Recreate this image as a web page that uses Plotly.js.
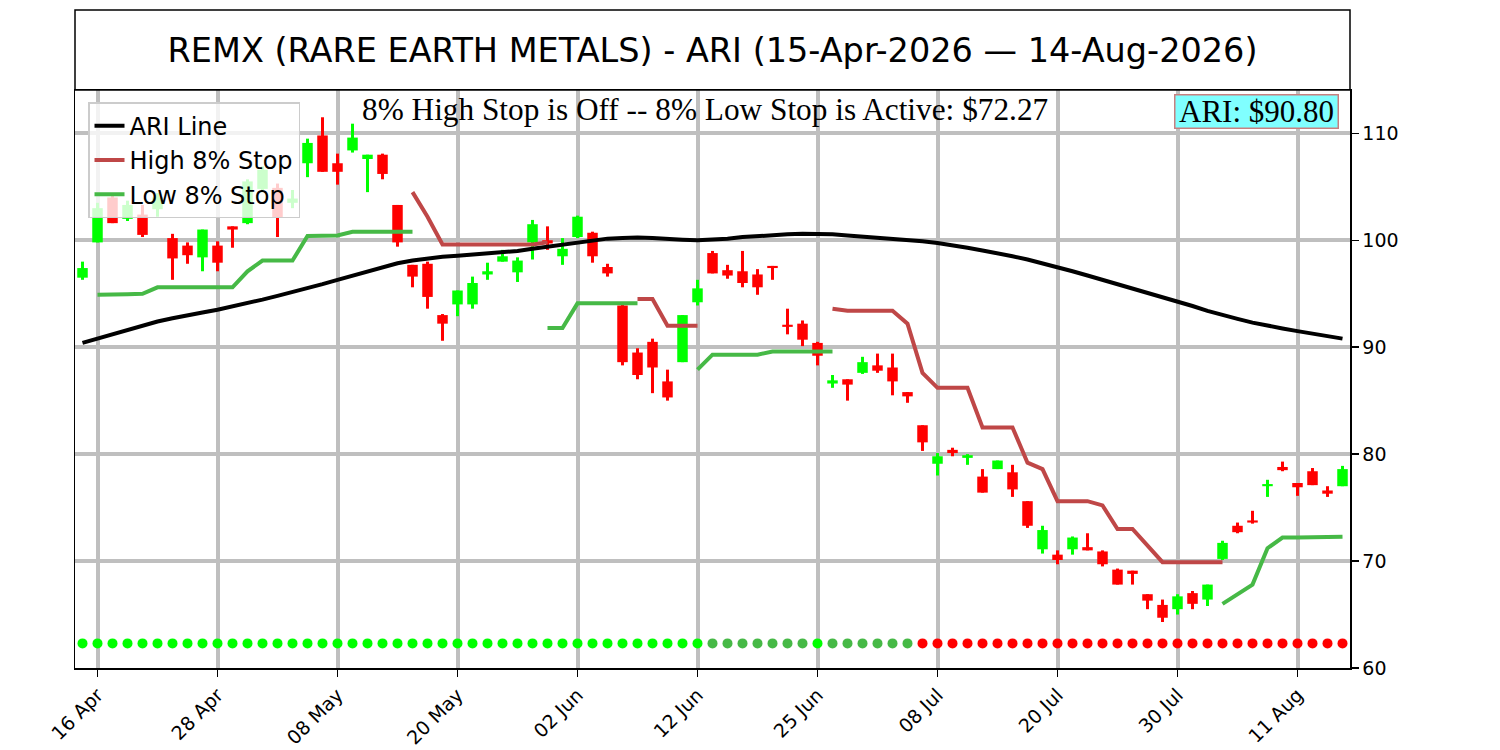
<!DOCTYPE html>
<html>
<head>
<meta charset="utf-8">
<script src="https://cdn.plot.ly/plotly-3.0.1.min.js"></script>
<style>html,body{margin:0;padding:0;background:#fff;}#chart{width:1500px;height:750px;}</style>
</head>
<body>
<div id="chart"></div>
<script>
// ---- data (trading-day index 0 = 15-Apr-2026 ... 84 = 14-Aug-2026) ----
var openP  = [96.5,99.8,104.0,102.0,102.4,102.9,100.2,99.5,98.4,99.5,101.3,101.6,104.8,104.9,103.5,107.2,109.8,107.2,108.4,107.6,108.0,103.3,97.7,97.8,93.0,94.0,94.0,96.8,98.0,97.0,99.8,100.0,98.5,100.3,100.7,97.5,93.9,89.5,90.5,86.8,88.6,94.2,98.8,97.2,97.1,96.8,97.6,92.1,92.2,90.4,86.6,87.0,87.6,88.3,88.1,85.8,82.7,79.1,80.4,79.65,77.9,78.6,78.3,75.6,71.1,70.6,71.1,71.3,70.9,69.2,69.1,66.9,65.9,65.5,67.0,66.4,70.2,73.3,73.8,77.0,78.8,77.3,78.4,76.6,77.0];
var highP  = [98.0,103.5,104.3,103.7,103.3,104.4,100.6,99.8,101.0,99.9,101.3,105.7,106.9,105.3,104.7,109.5,111.5,108.1,110.9,108.0,108.1,103.3,97.7,98.0,93.1,95.3,96.6,97.9,99.1,98.4,101.9,101.3,100.2,102.3,100.8,97.8,94.1,89.9,90.8,87.9,93.0,96.3,99.0,97.7,99.0,97.3,97.6,93.6,92.5,90.5,87.4,87.0,89.1,89.4,89.4,85.8,82.7,80.1,80.6,80.0,78.6,79.4,79.0,75.6,73.3,71.0,72.3,72.6,71.0,69.3,69.1,66.9,66.4,66.9,67.2,67.8,71.9,73.6,74.7,77.6,79.3,77.3,78.7,77.0,78.9];
var lowP   = [96.3,99.8,101.6,101.8,100.3,102.2,96.3,97.8,97.1,97.1,99.3,101.5,104.6,100.3,103.0,105.9,106.4,105.2,108.2,104.5,105.7,99.4,95.6,93.6,90.6,92.9,93.6,96.3,98.0,96.1,98.2,99.1,97.7,100.2,97.9,96.6,88.3,87.0,85.7,85.0,88.6,93.9,96.9,96.4,95.6,94.9,96.3,91.2,90.1,88.3,86.2,85.0,87.5,87.6,85.5,84.8,80.3,78.0,79.8,79.0,76.4,78.6,76.0,73.1,70.7,69.7,70.6,71.0,69.5,67.8,67.8,65.5,64.3,65.0,65.5,65.8,70.1,72.6,73.5,76.0,78.4,76.1,77.1,76.0,77.0];
var closeP = [97.4,103.0,101.6,103.3,100.5,104.0,98.3,98.6,101.0,97.9,101.0,105.5,106.6,102.1,103.9,109.1,106.4,106.4,109.6,108.0,106.2,99.8,96.6,94.7,92.2,95.3,96.0,97.1,98.5,98.1,101.5,99.7,99.2,102.2,98.5,96.9,88.6,87.4,88.1,85.3,93.0,95.5,96.9,96.7,96.0,95.6,97.4,91.9,90.7,89.2,86.9,86.5,88.6,87.8,86.8,85.4,81.1,79.8,80.1,79.9,76.4,79.4,76.7,73.3,72.9,70.1,72.2,71.0,69.7,67.8,68.8,66.3,64.7,66.7,66.0,67.8,71.7,72.7,73.6,77.2,78.5,76.9,77.1,76.3,78.6];

var ariLine = [90.4,90.8,91.2,91.6,92.0,92.4,92.7,93.0,93.25,93.5,93.8,94.1,94.45,94.8,95.15,95.5,95.9,96.3,96.7,97.1,97.5,97.85,98.1,98.3,98.45,98.55,98.65,98.75,98.85,99.0,99.2,99.4,99.6,99.8,100.0,100.15,100.2,100.25,100.2,100.1,100.05,100.0,100.05,100.15,100.3,100.4,100.5,100.55,100.6,100.6,100.55,100.45,100.35,100.25,100.15,100.05,99.9,99.75,99.55,99.3,99.05,98.8,98.5,98.2,97.85,97.5,97.1,96.7,96.3,95.9,95.5,95.1,94.7,94.3,93.85,93.4,93.0,92.65,92.3,92.0,91.75,91.5,91.25,91.0,90.8];

var highStop = [null,null,null,null,null,null,null,null,null,null,null,null,null,null,null,null,null,null,null,null,null,null,
  104.5,102.2,99.6,99.6,99.6,99.6,99.6,99.6,99.6,99.8,
  null,null,null,null,null,
  94.5,94.5,92.0,92.0,92.0,
  null,null,null,null,null,null,null,null,
  93.6,93.4,93.4,93.4,93.4,92.2,87.6,86.2,86.2,86.2,82.5,82.5,82.5,79.2,78.6,75.6,75.6,75.6,75.2,73.0,73.0,71.5,69.9,69.9,69.9,69.9,69.9,
  null,null,null,null,null,null,null,null];

var lowStop = [null,
  94.9,94.9,94.95,95.0,95.6,95.6,95.6,95.6,95.6,95.6,97.1,98.1,98.1,98.1,100.4,100.4,100.45,100.8,100.8,100.8,100.8,100.8,
  null,null,null,null,null,null,null,null,
  91.8,91.8,94.1,94.1,94.1,94.1,94.1,
  null,null,null,
  87.9,89.3,89.3,89.3,89.3,89.6,89.6,89.6,89.6,89.6,
  null,null,null,null,null,null,null,null,null,null,null,null,null,null,null,null,null,null,null,null,null,null,null,null,null,
  66.0,66.9,67.8,71.2,72.2,72.2,72.2,72.2,72.27];

// signal row: 'up' bright green, 'hold' muted green, 'down' red
var signalState = [];
(function(){
  var s = 'UUUUUUUUUUUUUUUUUUUUUUUUUUUUUUUUUUUUUUUUUUHHHHHHHUHHHHHHDDDDDDDDDDDDDDDDDDDDDDDDDDDDD';
  for (var i = 0; i < s.length; i++) signalState.push(s[i] === 'U' ? 'up' : (s[i] === 'H' ? 'hold' : 'down'));
})();
var signalLevel = 62.3;

var tickIndex  = [1,9,17,25,33,41,49,57,65,73,81];
var tickLabels = ['16 Apr','28 Apr','08 May','20 May','02 Jun','12 Jun','25 Jun','08 Jul','20 Jul','30 Jul','11 Aug'];
var yTicks = [60,70,80,90,100,110];

var chartTitle = 'REMX (RARE EARTH METALS) - ARI (15-Apr-2026 \u2014 14-Aug-2026)';
var stopText = '8% High Stop is Off -- 8% Low Stop is Active: $72.27';
var ariText = 'ARI: $90.80';

// ---- build ----
var n = closeP.length;
var idx = [], bodyBase = [], bodyLen = [], wickBase = [], wickLen = [], candleColor = [], sigY = [], sigColor = [];
var colorMap = {up:'#00ff00', hold:'#46b946', down:'#ff0000'};
for (var i = 0; i < n; i++) {
  idx.push(i);
  var lo = Math.min(openP[i], closeP[i]), hi = Math.max(openP[i], closeP[i]);
  bodyBase.push(lo);
  bodyLen.push(Math.max(hi - lo, 0.12));
  wickBase.push(lowP[i]);
  wickLen.push(highP[i] - lowP[i]);
  candleColor.push(closeP[i] >= openP[i] ? '#00ff00' : '#ff0000');
  sigY.push(signalLevel);
  sigColor.push(colorMap[signalState[i]]);
}

var traces = [
  {type:'bar', x:idx, base:wickBase, y:wickLen, width:0.2, marker:{color:candleColor, line:{width:0}}, showlegend:false, hoverinfo:'skip'},
  {type:'bar', x:idx, base:bodyBase, y:bodyLen, width:0.7, marker:{color:candleColor, line:{width:0}}, showlegend:false, hoverinfo:'skip'},
  {type:'scatter', mode:'lines', x:idx, y:ariLine, name:'ARI Line', line:{color:'#000000', width:4}},
  {type:'scatter', mode:'lines', x:idx, y:highStop, name:'High 8% Stop', connectgaps:false, line:{color:'#bf4747', width:4}},
  {type:'scatter', mode:'lines', x:idx, y:lowStop, name:'Low 8% Stop', connectgaps:false, line:{color:'#46b946', width:4}},
  {type:'scatter', mode:'markers', x:idx, y:sigY, showlegend:false, marker:{color:sigColor, size:10}, hoverinfo:'skip'}
];

var plotTop = 90, plotBottom = 668, plotH = plotBottom - plotTop;

var layout = {
  width:1500, height:750,
  margin:{l:75, r:150, t:90, b:82, pad:0},
  paper_bgcolor:'#ffffff', plot_bgcolor:'#ffffff',
  barmode:'overlay',
  hovermode:false,
  font:{family:'DejaVu Sans', color:'#000000', size:19},
  title:{text:chartTitle, font:{family:'DejaVu Sans', size:33.5, color:'#000'}, x:0.5, xref:'paper', xanchor:'center', y:1-50/750, yref:'container', yanchor:'middle'},
  xaxis:{range:[-0.5,84.5], tickmode:'array', tickvals:tickIndex, ticktext:tickLabels, tickangle:-45,
         ticks:'outside', ticklen:7, tickwidth:1.5, tickcolor:'#000',
         showline:true, mirror:true, linecolor:'#000', linewidth:1.5,
         showgrid:true, gridcolor:'#bfbfbf', gridwidth:4, zeroline:false,
         tickfont:{family:'DejaVu Sans', size:19}},
  yaxis:{range:[60,114.05], side:'right', tickmode:'array', tickvals:yTicks,
         ticks:'outside', ticklen:7, tickwidth:1.5, tickcolor:'#000',
         showline:true, mirror:true, linecolor:'#000', linewidth:1.5,
         showgrid:true, gridcolor:'#bfbfbf', gridwidth:4, zeroline:false,
         tickfont:{family:'DejaVu Sans', size:19}},
  legend:{x:0.0102, y:0.979, xanchor:'left', yanchor:'top', bgcolor:'rgba(255,255,255,0.8)', bordercolor:'#cccccc', borderwidth:1.5,
          font:{family:'DejaVu Sans', size:24, color:'#000'}, tracegroupgap:0},
  shapes:[
    {type:'rect', xref:'paper', yref:'paper', x0:0, x1:1, y0:1, y1:(plotBottom-10)/plotH, line:{color:'#000', width:1.5}, fillcolor:'rgba(0,0,0,0)'}
  ],
  annotations:[
    {xref:'paper', yref:'paper', x:0.494, y:(plotBottom-110)/plotH, xanchor:'center', yanchor:'middle', showarrow:false,
     text:stopText, font:{family:'Liberation Serif', size:31.3, color:'#000'}},
    {xref:'paper', yref:'paper', x:(1339-75)/1275, y:(plotBottom-111.5)/plotH, xanchor:'right', yanchor:'middle', showarrow:false,
     text:ariText, font:{family:'Liberation Serif', size:31, color:'#000'}, bgcolor:'#80ffff', bordercolor:'#c88080', borderwidth:1.5, borderpad:2,
     width:158, height:28}
  ]
};

Plotly.newPlot('chart', traces, layout, {displayModeBar:false, staticPlot:true});
</script>
</body>
</html>
